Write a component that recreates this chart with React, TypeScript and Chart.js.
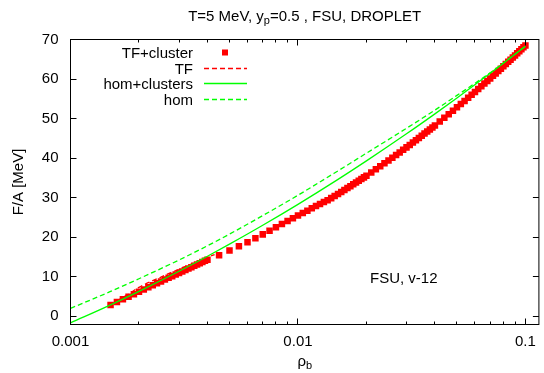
import React, { useEffect, useRef } from 'react';
import { Chart, registerables } from 'chart.js';

Chart.register(...registerables);

// ---------- data ----------
const clusterRho = [
  0.0015, 0.0016, 0.0017, 0.0018, 0.0019, 0.002, 0.0021, 0.0022, 0.0023, 0.0024,
  0.0025, 0.0026, 0.0027, 0.0028, 0.0029, 0.003, 0.0031, 0.0032, 0.0033, 0.0034,
  0.0035, 0.0036, 0.0037, 0.0038, 0.0039, 0.004,
  0.0045, 0.005, 0.0055, 0.006, 0.0065, 0.007, 0.0075, 0.008, 0.0085, 0.009,
  0.0095, 0.01, 0.0105, 0.011, 0.0115, 0.012, 0.0125, 0.013,
  0.0135, 0.014, 0.0145, 0.015, 0.0155, 0.016, 0.0165, 0.017, 0.0175, 0.018,
  0.0185, 0.019, 0.0195, 0.02,
  0.021, 0.022, 0.023, 0.024, 0.025, 0.026, 0.027, 0.028, 0.029, 0.03,
  0.031, 0.032, 0.033, 0.034, 0.035, 0.036, 0.037, 0.038, 0.039, 0.04,
  0.042, 0.044, 0.046, 0.048, 0.05, 0.052, 0.054, 0.056, 0.058, 0.06,
  0.062, 0.064, 0.066, 0.068, 0.07, 0.072, 0.074, 0.076, 0.078, 0.08,
  0.082, 0.084, 0.086, 0.088, 0.09, 0.092, 0.094, 0.096, 0.098, 0.1,
];
const clusterF = [
  2.81, 3.57, 4.28, 4.95, 5.58, 6.18, 6.76, 7.3, 7.82, 8.32,
  8.8, 9.26, 9.7, 10.13, 10.54, 10.94, 11.32, 11.69, 12.06, 12.41,
  12.75, 13.08, 13.4, 13.71, 14.02, 14.31,
  15.4, 16.6, 17.7, 18.7, 19.7, 20.7, 21.6, 22.5, 23.3, 24.1,
  24.8, 25.5, 26.1, 26.7, 27.3, 27.9, 28.4, 28.9,
  29.32, 29.87, 30.4, 30.92, 31.43, 31.92, 32.41, 32.88, 33.35, 33.81,
  34.26, 34.69, 35.12, 35.54,
  36.37, 37.16, 37.93, 38.68, 39.4, 40.1, 40.78, 41.44, 42.09, 42.71,
  43.33, 43.92, 44.51, 45.08, 45.64, 46.19, 46.72, 47.25, 47.76, 48.27,
  49.24, 50.19, 51.1, 51.98, 52.84, 53.66, 54.46, 55.24, 56.0, 56.74,
  57.46, 58.16, 58.84, 59.51, 60.16, 60.8, 61.42, 62.03, 62.63, 63.22,
  63.79, 64.35, 64.9, 65.45, 65.97, 66.5, 67.01, 67.52, 68.01, 68.5,
];

const tfRho = [0.0015, 0.0018, 0.002, 0.0025, 0.003, 0.0035, 0.004, 0.0043];
const tfF = [2.9, 5.6, 7.3, 9.9, 11.9, 13.5, 14.9, 15.6];

const homClRho = [0.001, 0.0015, 0.002, 0.003, 0.004, 0.005, 0.007, 0.01, 0.015, 0.02, 0.03, 0.04, 0.05, 0.07, 0.1];
const homClF = [-1.7, 2.86, 6.28, 11.37, 15.16, 18.22, 23.0, 28.3, 34.62, 39.29, 46.14, 51.19, 55.21, 61.45, 68.3];

const homRho = [0.001, 0.0015, 0.002, 0.003, 0.004, 0.005, 0.007, 0.01, 0.015, 0.02, 0.03, 0.04, 0.05, 0.07, 0.1];
const homF = [1.97, 6.26, 9.48, 14.22, 17.81, 20.77, 25.45, 30.6, 36.77, 41.24, 47.54, 52.14, 55.86, 61.6, 68.3];

const xTickValues = [
  0.001, 0.002, 0.003, 0.004, 0.005, 0.006, 0.007, 0.008, 0.009,
  0.01, 0.02, 0.03, 0.04, 0.05, 0.06, 0.07, 0.08, 0.09, 0.1,
];
const xLabelValues = [0.001, 0.01, 0.1];
const yTickValues = [0, 10, 20, 30, 40, 50, 60, 70];

const X_MIN = 0.001;
const X_MAX = 0.1146;
const Y_MIN = -2.1;
const Y_MAX = 70;

const FONT = '"Liberation Sans", Arial, Helvetica, sans-serif';
const FS = 15;
const RED = '#ff0000';
const GREEN = '#00ff00';
const DASH = [5, 3];
const LW = 1.3;

const legendItems = [
  { label: 'TF+cluster', kind: 'square', color: RED, dash: [] as number[] },
  { label: 'TF', kind: 'line', color: RED, dash: DASH },
  { label: 'hom+clusters', kind: 'line', color: GREEN, dash: [] as number[] },
  { label: 'hom', kind: 'line', color: GREEN, dash: DASH },
];

const decorPlugin = {
  id: 'decor',
  afterDraw(chart: any) {
    const { ctx, chartArea: a, scales } = chart;
    const x = scales.x;
    const y = scales.y;
    ctx.save();

    // frame
    ctx.strokeStyle = '#000';
    ctx.lineWidth = 1;
    ctx.setLineDash([]);
    ctx.strokeRect(a.left, a.top, a.right - a.left, a.bottom - a.top);

    // ticks (inward, mirrored)
    ctx.beginPath();
    for (const v of xTickValues) {
      const px = Math.floor(x.getPixelForValue(v)) + 0.5;
      const len = xLabelValues.includes(v) ? 6 : 3;
      ctx.moveTo(px, a.bottom);
      ctx.lineTo(px, a.bottom - len);
      ctx.moveTo(px, a.top);
      ctx.lineTo(px, a.top + len);
    }
    for (const v of yTickValues) {
      const py = Math.floor(y.getPixelForValue(v)) + 0.5;
      ctx.moveTo(a.left, py);
      ctx.lineTo(a.left + 6, py);
      ctx.moveTo(a.right, py);
      ctx.lineTo(a.right - 6, py);
    }
    ctx.stroke();

    ctx.fillStyle = '#000';
    ctx.textBaseline = 'alphabetic';

    // title with subscript
    const mainFont = `${FS}px ${FONT}`;
    const subFont = `11px ${FONT}`;
    const t1 = 'T=5 MeV, y';
    const t2 = 'p';
    const t3 = '=0.5 , FSU, DROPLET';
    ctx.font = mainFont;
    const w1 = ctx.measureText(t1).width;
    const w3 = ctx.measureText(t3).width;
    ctx.font = subFont;
    const w2 = ctx.measureText(t2).width;
    const cx = (a.left + a.right) / 2;
    let tx = cx - (w1 + w2 + w3) / 2;
    const tb = 20.5;
    ctx.textAlign = 'left';
    ctx.font = mainFont;
    ctx.fillText(t1, tx, tb);
    tx += w1;
    ctx.font = subFont;
    ctx.fillText(t2, tx, tb + 3);
    tx += w2;
    ctx.font = mainFont;
    ctx.fillText(t3, tx, tb);

    // x axis title rho_b
    ctx.font = mainFont;
    const wr = ctx.measureText('ρ').width;
    ctx.font = subFont;
    const wb = ctx.measureText('b').width;
    const rx = cx - (wr + wb) / 2;
    ctx.font = mainFont;
    ctx.fillText('ρ', rx, 366);
    ctx.font = subFont;
    ctx.fillText('b', rx + wr, 369);

    // y axis title
    ctx.save();
    ctx.translate(19, (a.top + a.bottom) / 2);
    ctx.rotate(-Math.PI / 2);
    ctx.font = mainFont;
    ctx.textAlign = 'center';
    ctx.textBaseline = 'middle';
    ctx.fillText('F/A [MeV]', 0, 0);
    ctx.restore();

    // annotation
    ctx.font = mainFont;
    ctx.textAlign = 'left';
    ctx.fillText('FSU, v-12', 370, 283);

    // legend
    const baselines = [58, 73.5, 89, 104.5];
    legendItems.forEach((it, i) => {
      const b = baselines[i];
      ctx.font = mainFont;
      ctx.textAlign = 'right';
      ctx.fillStyle = '#000';
      ctx.fillText(it.label, 193, b);
      const sy = b - 5.5;
      if (it.kind === 'square') {
        ctx.fillStyle = it.color;
        ctx.fillRect(222, sy - 3, 6, 6);
      } else {
        ctx.strokeStyle = it.color;
        ctx.lineWidth = LW;
        ctx.setLineDash(it.dash);
        ctx.beginPath();
        ctx.moveTo(204, Math.floor(sy) + 0.5);
        ctx.lineTo(247, Math.floor(sy) + 0.5);
        ctx.stroke();
        ctx.setLineDash([]);
      }
    });

    ctx.restore();
  },
};

export default function App() {
  const ref = useRef<HTMLCanvasElement | null>(null);

  useEffect(() => {
    const canvas = ref.current;
    if (!canvas) return;
    const toXY = (xs: number[], ys: number[]) => xs.map((v, i) => ({ x: v, y: ys[i] }));

    const chart = new Chart(canvas, {
      type: 'scatter',
      data: {
        datasets: [
          {
            label: 'TF+cluster',
            data: toXY(clusterRho, clusterF),
            showLine: false,
            pointStyle: 'rect',
            pointRadius: 4.6,
            pointHoverRadius: 4.6,
            pointBackgroundColor: RED,
            pointBorderColor: RED,
            pointBorderWidth: 0,
            backgroundColor: RED,
            borderColor: RED,
            order: 4,
          },
          {
            label: 'TF',
            data: toXY(tfRho, tfF),
            showLine: true,
            borderColor: RED,
            borderWidth: LW,
            borderDash: DASH,
            pointRadius: 0,
            cubicInterpolationMode: 'monotone',
            order: 3,
          },
          {
            label: 'hom+clusters',
            data: toXY(homClRho, homClF),
            showLine: true,
            borderColor: GREEN,
            borderWidth: LW,
            pointRadius: 0,
            cubicInterpolationMode: 'monotone',
            order: 2,
          },
          {
            label: 'hom',
            data: toXY(homRho, homF),
            showLine: true,
            borderColor: GREEN,
            borderWidth: LW,
            borderDash: DASH,
            pointRadius: 0,
            cubicInterpolationMode: 'monotone',
            order: 1,
          },
        ],
      } as any,
      options: {
        responsive: false,
        animation: false,
        devicePixelRatio: 1,
        events: [],
        layout: { padding: { top: 39.5, right: 2.5, left: 0, bottom: 0 } },
        plugins: {
          legend: { display: false },
          tooltip: { enabled: false },
          title: { display: false },
        },
        scales: {
          x: {
            type: 'logarithmic',
            min: X_MIN,
            max: X_MAX,
            position: 'bottom',
            grid: { display: false, drawTicks: false },
            border: { display: false },
            ticks: {
              autoSkip: false,
              maxRotation: 0,
              minRotation: 0,
              padding: 8,
              color: '#000',
              font: { family: FONT, size: FS },
              callback: (v: any) => (xLabelValues.includes(v) ? String(v) : ''),
            },
            afterBuildTicks: (s: any) => {
              s.ticks = xTickValues.map((v) => ({ value: v }));
            },
            afterFit: (s: any) => {
              s.height = 48.5;
            },
          },
          y: {
            type: 'linear',
            min: Y_MIN,
            max: Y_MAX,
            grid: { display: false, drawTicks: false },
            border: { display: false },
            ticks: {
              padding: 12,
              color: '#000',
              font: { family: FONT, size: FS },
              callback: (v: any) => String(v),
            },
            afterBuildTicks: (s: any) => {
              s.ticks = yTickValues.map((v) => ({ value: v }));
            },
            afterFit: (s: any) => {
              s.width = 70.5;
            },
          },
        },
      } as any,
      plugins: [decorPlugin],
    });

    return () => {
      chart.destroy();
    };
  }, []);

  return (
    <div style={{ position: 'absolute', left: 0, top: 0, width: 544, height: 373, background: '#fff' }}>
      <canvas ref={ref} width={544} height={373} style={{ display: 'block' }} />
    </div>
  );
}
